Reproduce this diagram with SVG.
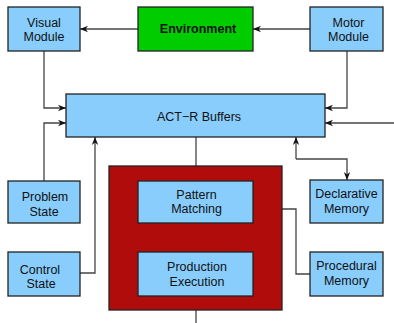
<svg xmlns="http://www.w3.org/2000/svg" width="394" height="323" viewBox="0 0 394 323">
<defs>
<marker id="ah" viewBox="0 0 10 10" refX="10" refY="5" markerWidth="8" markerHeight="8" markerUnits="userSpaceOnUse" orient="auto">
<path d="M0,1 L10,5 L0,9 L3,5 Z" fill="#111"/>
</marker>
<style>
.b{fill:#88cdfc;stroke:#222;stroke-width:1.3}
.t{font-family:"Liberation Sans",Arial,sans-serif;font-size:12.5px;fill:#111;text-anchor:middle}
.c{fill:none;stroke:#444;stroke-width:1.3}
</style>
</defs>
<g id="connectors">
<path class="c" d="M138,29 H80" marker-end="url(#ah)"/>
<path class="c" d="M310,29 H253" marker-end="url(#ah)"/>
<path class="c" d="M44,51 V108 H66" marker-end="url(#ah)"/>
<path class="c" d="M44,181 V123 H66" marker-end="url(#ah)"/>
<path class="c" d="M347,51 V108 H325" marker-end="url(#ah)"/>
<path class="c" d="M394,123 H325" marker-end="url(#ah)"/>
<path class="c" d="M80,273 H95 V137" marker-end="url(#ah)"/>
<path class="c" d="M296,159 V137" marker-end="url(#ah)"/>
<path class="c" d="M296,159 H347 V180" marker-end="url(#ah)"/>
<path class="c" d="M196,137 V166"/>
<path class="c" d="M196,310 V323"/>
<path class="c" d="M282,209 H296 V274 H310"/>
</g>
<g id="visual"><rect class="b" x="8" y="7" width="72" height="44"/><text class="t" x="44" y="26.5">Visual</text><text class="t" x="44" y="41">Module</text></g>
<g id="environment"><rect x="138" y="7" width="115" height="44" fill="#00cc00" stroke="#222" stroke-width="1.3"/><text class="t" x="198" y="33" font-weight="bold">Environment</text></g>
<g id="motor"><rect class="b" x="310" y="7" width="73" height="44"/><text class="t" x="348.5" y="26.5">Motor</text><text class="t" x="348.5" y="41">Module</text></g>
<g id="buffers"><rect class="b" x="66" y="94" width="259" height="43"/><text class="t" x="199" y="120.5">ACT−R Buffers</text></g>
<g id="problem"><rect class="b" x="8" y="181" width="72" height="42"/><text class="t" x="45" y="201">Problem</text><text class="t" x="44" y="215.5">State</text></g>
<g id="control"><rect class="b" x="8" y="252" width="72" height="44"/><text class="t" x="40" y="273.5">Control</text><text class="t" x="41" y="288">State</text></g>
<g id="production-system"><rect x="109" y="166" width="173" height="144" fill="#b00c0c" stroke="#222" stroke-width="1.3"/></g>
<g id="pattern"><rect class="b" x="138" y="181" width="115" height="42"/><text class="t" x="196.5" y="198.5">Pattern</text><text class="t" x="196.5" y="213">Matching</text></g>
<g id="execution"><rect class="b" x="138" y="252" width="115" height="44"/><text class="t" x="197" y="270.5">Production</text><text class="t" x="197" y="285.5">Execution</text></g>
<g id="declarative"><rect class="b" x="310" y="180" width="73" height="43"/><text class="t" x="346.5" y="198">Declarative</text><text class="t" x="346.5" y="212.5">Memory</text></g>
<g id="procedural"><rect class="b" x="310" y="252" width="73" height="44"/><text class="t" x="346.5" y="270">Procedural</text><text class="t" x="346.5" y="285">Memory</text></g>
</svg>
